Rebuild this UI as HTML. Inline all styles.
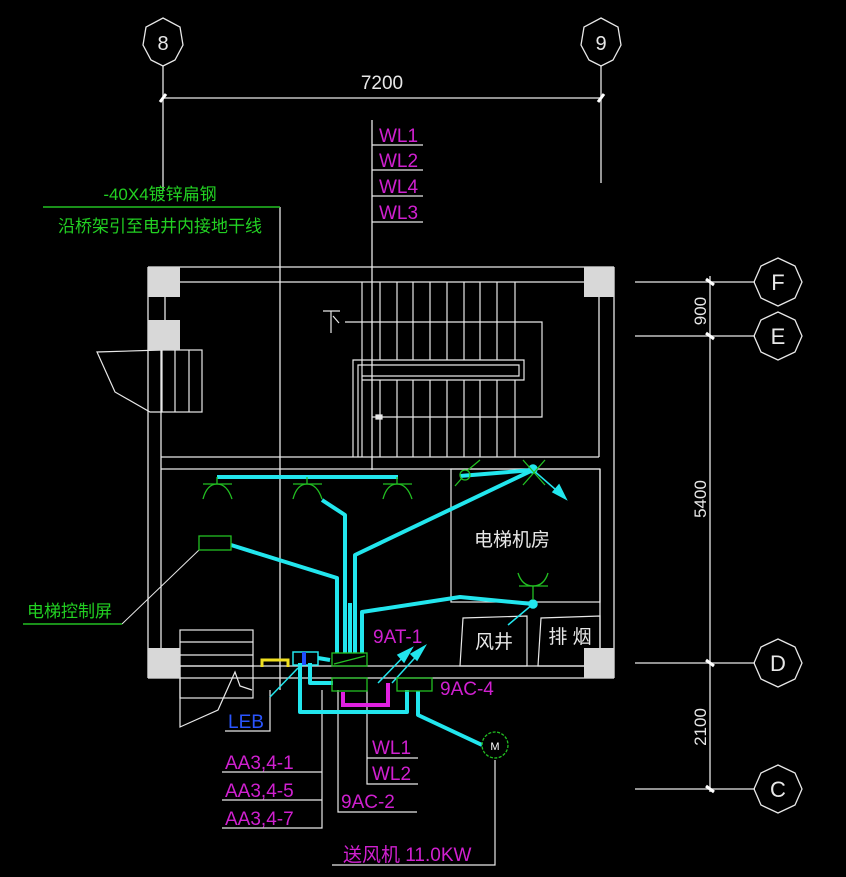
<!DOCTYPE html>
<html><head><meta charset="utf-8"><style>
html,body{margin:0;padding:0;background:#000;width:846px;height:877px;overflow:hidden}
svg{display:block}
text{font-family:"Liberation Sans","Noto Sans CJK SC",sans-serif}
</style></head><body>
<svg width="846" height="877" viewBox="0 0 846 877" xmlns="http://www.w3.org/2000/svg">
<rect width="846" height="877" fill="#000"/>
<g stroke="#e8e8e8" stroke-width="1.3" fill="none">
<!-- axis top -->
<polygon points="163,18 180,27 183,45 175,60 163,66 151,60 143,45 146,27"/>
<polygon points="601,18 618,27 621,45 613,60 601,66 589,60 581,45 584,27"/>
<line x1="163" y1="66" x2="163" y2="190"/><line x1="601" y1="66" x2="601" y2="183"/>
<line x1="163" y1="98" x2="601" y2="98"/>
<!-- right axis -->
<line x1="710" y1="276" x2="710" y2="792"/>
<line x1="635" y1="282" x2="755" y2="282"/><line x1="635" y1="336" x2="755" y2="336"/>
<line x1="635" y1="663" x2="755" y2="663"/><line x1="635" y1="789" x2="755" y2="789"/>
<polygon points="778,258 795,266 802,282 795,298 778,306 761,298 754,282 761,266"/>
<polygon points="778,312 795,320 802,336 795,352 778,360 761,352 754,336 761,320"/>
<polygon points="778,639 795,647 802,663 795,679 778,687 761,679 754,663 761,647"/>
<polygon points="778,765 795,773 802,789 795,805 778,813 761,805 754,789 761,773"/>
<!-- WL stack -->
<line x1="372" y1="120" x2="372" y2="470"/>
<line x1="372" y1="145" x2="423" y2="145"/><line x1="372" y1="170" x2="423" y2="170"/>
<line x1="372" y1="196" x2="423" y2="196"/><line x1="372" y1="222" x2="423" y2="222"/>
<line x1="280" y1="207" x2="280" y2="690"/>
<!-- building -->
<line x1="148" y1="267" x2="614" y2="267"/><line x1="180" y1="282" x2="584" y2="282"/>
<line x1="148" y1="267" x2="148" y2="678"/><line x1="614" y1="267" x2="614" y2="678"/>
<line x1="161" y1="350" x2="161" y2="666"/><line x1="599" y1="297" x2="599" y2="457"/>
<line x1="161" y1="457" x2="599" y2="457"/>
<line x1="161" y1="469" x2="600" y2="469"/><line x1="600" y1="469" x2="600" y2="666"/>
<line x1="161" y1="666" x2="600" y2="666"/><line x1="148" y1="678" x2="614" y2="678"/>
<line x1="165" y1="297" x2="165" y2="320"/>
<!-- stairs -->
<g stroke-width="1.2">
<line x1="362" y1="282" x2="362" y2="457"/>
<line x1="380" y1="282" x2="380" y2="360"/><line x1="397" y1="282" x2="397" y2="360"/><line x1="413" y1="282" x2="413" y2="360"/><line x1="430" y1="282" x2="430" y2="360"/><line x1="447" y1="282" x2="447" y2="360"/><line x1="464" y1="282" x2="464" y2="360"/><line x1="480" y1="282" x2="480" y2="360"/><line x1="497" y1="282" x2="497" y2="360"/><line x1="515" y1="282" x2="515" y2="360"/>
<line x1="380" y1="380" x2="380" y2="457"/><line x1="397" y1="380" x2="397" y2="457"/><line x1="413" y1="380" x2="413" y2="457"/><line x1="430" y1="380" x2="430" y2="457"/><line x1="447" y1="380" x2="447" y2="457"/><line x1="464" y1="380" x2="464" y2="457"/><line x1="480" y1="380" x2="480" y2="457"/><line x1="497" y1="380" x2="497" y2="457"/><line x1="515" y1="380" x2="515" y2="457"/>
<polyline points="353,457 353,360 524,360 524,380 362,380"/>
<polyline points="358,457 358,365 519,365 519,376 362,376"/>
<polyline points="345,322 542,322 542,417 372,417"/>
<line x1="323" y1="311" x2="340" y2="311"/><line x1="331" y1="311" x2="331" y2="333"/><line x1="333" y1="316" x2="339" y2="323"/>
<rect x="376" y="415" width="6" height="4" fill="#e8e8e8"/>
<!-- left small stair -->
<rect x="162" y="350" width="40" height="62"/>
<line x1="175" y1="350" x2="175" y2="412"/><line x1="189" y1="350" x2="189" y2="412"/>
<polyline points="162,350 97,352 115,392 150,412 162,412"/>
<!-- lower stair -->
<rect x="180" y="630" width="73" height="68"/>
<line x1="180" y1="642" x2="253" y2="642"/><line x1="180" y1="655" x2="253" y2="655"/>
<line x1="180" y1="666" x2="253" y2="666"/>
<polyline points="180,666 180,727 218,710 235,672 240,686 252,690"/>
<!-- elevator room -->
<rect x="451" y="469" width="149" height="133"/>
<polygon points="460,666 463,618 527,616 527,666"/>
<polygon points="538,666 541,618 600,616 600,666"/>
<!-- leaders -->
<line x1="122" y1="624" x2="199" y2="550" stroke-width="1"/>
<polyline points="338,690 338,812 417,812"/><polyline points="367,690 367,784 418,784"/>
<line x1="367" y1="758" x2="418" y2="758"/>
<polyline points="322,690 322,828 222,828"/><line x1="222" y1="772" x2="322" y2="772"/><line x1="222" y1="800" x2="322" y2="800"/>
<polyline points="495,760 495,865 332,865"/>
<polyline points="225,731 270,731 270,690"/>
</g>
</g>
<!-- columns -->
<g fill="#d8d8d8">
<rect x="148" y="267" width="32" height="30"/><rect x="584" y="267" width="30" height="30"/>
<rect x="148" y="320" width="32" height="30"/><rect x="148" y="648" width="32" height="30"/>
<rect x="584" y="648" width="30" height="30"/>
</g>
<!-- dim ticks -->
<g stroke="#fff" stroke-width="3">
<line x1="160" y1="102" x2="166" y2="94"/><line x1="598" y1="102" x2="604" y2="94"/>
<line x1="706" y1="279" x2="714" y2="285"/><line x1="706" y1="333" x2="714" y2="339"/>
<line x1="706" y1="660" x2="714" y2="666"/><line x1="706" y1="786" x2="714" y2="792"/>
</g>
<!-- cyan cables -->
<g stroke="#22e6ee" stroke-width="4" fill="none" stroke-linejoin="round">
<line x1="217" y1="477" x2="398" y2="477"/>
<polyline points="322,500 345,515 345,653"/>
<polyline points="355,653 355,555 533,470"/>
<polyline points="231,545 337,578 337,653"/>
<polyline points="362,653 362,612 460,597 533,604"/>
<line x1="350" y1="603" x2="350" y2="653"/>
<line x1="460" y1="476" x2="533" y2="470"/>
<polyline points="300,663 300,712 407,712 407,690"/>
<polyline points="310,663 310,683 333,683"/>
<polyline points="418,691 418,715 482,745"/>
<polyline points="318,658 330,660"/>
</g>
<g stroke="#22e6ee" stroke-width="1.5" fill="#22e6ee">
<line x1="533" y1="470" x2="563" y2="496"/><polygon points="566,499 553,492 559,485"/>
<line x1="533" y1="604" x2="508" y2="625"/><circle cx="533" cy="604" r="4"/><circle cx="533" cy="469" r="4"/>
<line x1="378" y1="683" x2="408" y2="652"/><polygon points="412,648 398,655 404,662"/>
<line x1="392" y1="683" x2="422" y2="650"/><polygon points="425,646 411,654 417,660"/>
<line x1="270" y1="697" x2="298" y2="668"/>
</g>
<!-- magenta -->
<polyline points="343,692 343,705 388,705 388,683" stroke="#e020e0" stroke-width="4" fill="none"/>
<!-- yellow/blue -->
<polyline points="262,667 262,660 288,660 288,667" stroke="#f0e020" stroke-width="3" fill="none"/>
<rect x="293" y="652" width="25" height="13" fill="none" stroke="#22e6ee" stroke-width="1.5"/>
<rect x="302" y="652" width="4" height="13" fill="#2050ff"/>
<!-- green elements -->
<g stroke="#22c022" stroke-width="1.3" fill="none">
<g id="lamp"><line x1="203" y1="484" x2="232" y2="484"/><line x1="217" y1="477" x2="217" y2="484"/><path d="M203,499 Q207,484 217,484 Q227,484 232,499"/></g>
<use href="#lamp" x="90"/><use href="#lamp" x="180"/>
<line x1="519" y1="586" x2="548" y2="586"/><line x1="533" y1="586" x2="533" y2="600"/><path d="M518,573 Q522,586 533,586 Q544,586 548,573"/>
<circle cx="465" cy="475" r="5"/><path d="M455,486 L462,478 M468,470 L480,460"/>
<path d="M523,460 L545,485 M545,460 L523,485"/>
<rect x="199" y="536" width="32" height="14"/>
<rect x="332" y="653" width="35" height="13"/><line x1="334" y1="664" x2="365" y2="656"/>
<rect x="332" y="678" width="35" height="13"/><rect x="397" y="678" width="35" height="13"/>
<circle cx="495" cy="745" r="13" stroke-dasharray="3 1.5"/>
</g>
<line x1="43" y1="207" x2="280" y2="207" stroke="#22c022" stroke-width="1.5"/>
<line x1="23" y1="624" x2="122" y2="624" stroke="#22c022" stroke-width="1.5"/>
<!-- text -->
<g fill="#e8e8e8">
<text x="382" y="89" font-size="19" text-anchor="middle">7200</text>
<text x="163" y="50" font-size="20" text-anchor="middle">8</text>
<text x="601" y="50" font-size="20" text-anchor="middle">9</text>
<text x="778" y="290" font-size="22" text-anchor="middle">F</text>
<text x="778" y="344" font-size="22" text-anchor="middle">E</text>
<text x="778" y="671" font-size="22" text-anchor="middle">D</text>
<text x="778" y="797" font-size="22" text-anchor="middle">C</text>
<text transform="translate(706,311) rotate(-90)" font-size="17" text-anchor="middle">900</text>
<text transform="translate(706,499) rotate(-90)" font-size="17" text-anchor="middle">5400</text>
<text transform="translate(706,727) rotate(-90)" font-size="17" text-anchor="middle">2100</text>
<text x="512" y="546" font-size="19" text-anchor="middle">电梯机房</text>
<text x="494" y="648" font-size="19" text-anchor="middle">风井</text>
<text x="570" y="643" font-size="19" text-anchor="middle">排 烟</text>
<text x="495" y="750" font-size="11" text-anchor="middle" fill="#fff">M</text>
</g>
<g fill="#d020d0" font-size="19">
<text x="379" y="142">WL1</text><text x="379" y="167">WL2</text><text x="379" y="193">WL4</text><text x="379" y="219">WL3</text>
<text x="373" y="643">9AT-1</text><text x="440" y="695">9AC-4</text>
<text x="372" y="754">WL1</text><text x="372" y="780">WL2</text><text x="341" y="808">9AC-2</text>
<text x="225" y="769">AA3,4-1</text><text x="225" y="797">AA3,4-5</text><text x="225" y="825">AA3,4-7</text>
<text x="343" y="861">送风机 11.0KW</text>
</g>
<text x="228" y="728" font-size="19" fill="#2a55ff">LEB</text>
<g fill="#22d022" font-size="17">
<text x="160" y="200" text-anchor="middle">-40X4镀锌扁钢</text>
<text x="160" y="232" text-anchor="middle">沿桥架引至电井内接地干线</text>
<text x="27" y="617">电梯控制屏</text>
</g>
</svg>
</body></html>
